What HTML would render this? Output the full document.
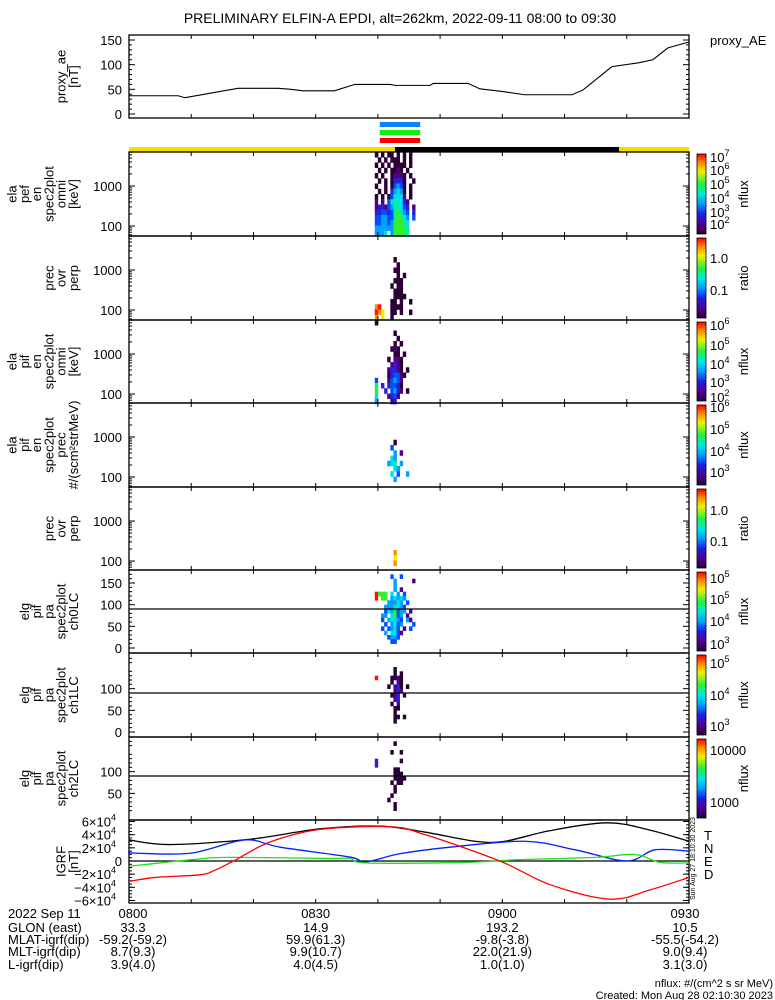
<!DOCTYPE html>
<html><head><meta charset="utf-8"><style>
body{margin:0;background:#fff}
svg{display:block}
text{font-family:"Liberation Sans",sans-serif;fill:#000}
</style></head><body>
<svg id="chart" width="775" height="1000" viewBox="0 0 775 1000" xmlns="http://www.w3.org/2000/svg">
<defs>
<linearGradient id="cmap" x1="0" y1="1" x2="0" y2="0">
<stop offset="0" stop-color="#2a0035"/><stop offset="0.12" stop-color="#500090"/><stop offset="0.25" stop-color="#2020e0"/>
<stop offset="0.38" stop-color="#00a0ff"/><stop offset="0.5" stop-color="#00e8e0"/><stop offset="0.62" stop-color="#20f040"/>
<stop offset="0.78" stop-color="#f0f000"/><stop offset="0.9" stop-color="#ff8000"/><stop offset="1" stop-color="#ff0000"/>
</linearGradient>
</defs>
<text x="400" y="23" font-size="14" text-anchor="middle">PRELIMINARY ELFIN-A EPDI, alt=262km, 2022-09-11 08:00 to 09:30</text>
<g id="g"></g>
</svg>
<script>
// ---------- data ----------
const aeTimes=[0,7.9,9,17.5,24,26,28,33,36.3,42,42.8,48.4,48.9,54.5,56.4,60.4,63.6,71.2,73,77.6,82,84.2,86.6,90];
const aeValues=[37,37,33,52,52,50,47,47,60,60,58,58,62,62,51,45,39,39,49,96,104,110,134,146];
const aeTicks=[0,50,100,150];
const nightInterval=[42.75,78.75];
const sciZone=[40.3,46.8];
const timeLabels=['0800','0830','0900','0930'];
const timeTickMins=[0,30,60,90];
const glonVals=['33.3','14.9','193.2','10.5'];
const mlatVals=['-59.2(-59.2)','59.9(61.3)','-9.8(-3.8)','-55.5(-54.2)'];
const mltVals=['8.7(9.3)','9.9(10.7)','22.0(21.9)','9.0(9.4)'];
const lVals=['3.9(4.0)','4.0(4.5)','1.0(1.0)','3.1(3.0)'];
// IGRF components (units of 1e4 nT)
const igrfT_t=[0,6.6,19.4,30.7,40.3,47.5,55.6,60.4,67.6,76.9,83.7,90];
const igrfT_v=[3.2,2.5,3.3,4.9,5.3,4.4,3.0,3.0,4.6,5.8,4.7,3.0];
const igrfN_t=[0,1,10,18.6,24.3,35.5,38,43.5,51.6,63.6,71.7,80,84.5,90];
const igrfN_v=[1.4,1.2,1.2,3.2,2.1,0.6,-0.15,1.1,2.1,3.0,1.7,0,1.7,1.5];
const igrfE_t=[0,10,16,32,35.5,38.3,54.2,62.5,74.9,81.3,85.3,90];
const igrfE_v=[-0.8,0.2,0.55,0.4,0.4,-0.3,-0.2,0.2,0.55,1.0,-0.2,-0.3];
const igrfD_t=[0,4.2,11.4,13.8,17.4,22.7,30.7,42,47.6,59.6,67.7,77.3,83.7,90];
const igrfD_v=[-3.1,-2.5,-2.1,-1.4,0.3,2.9,4.8,5.2,4.0,0,-3.6,-5.8,-4.4,-2.5];
const igrfTicks=[6,4,2,0,-2,-4,-6];
// spectrogram grids: rows top->bottom, columns in time; '0'-'9','a' = colour level, '.' = no data
const specStart=39.5, specStep=0.5;
const spec1=["0.0.00.0.0.0.",".0.0.000.0.0.","0.0.0.0000.0.",".0.0.0010.0..","0.0..01110.0.",".0.0.02220..0","0..0.03430.0.",".0.0.24540.0.","0.0.035551.0.","1.1.3565521..","12213466532.1","22332367643.2","33443367754.3","33443477765..","44444477776..","4445.477776.."];
const spec2=[".............",".............",".............",".............","......0......",".......0.....","......00.....",".......0.0...","......000....",".....0.00....","......000....","......0000...",".....00.0..0.","9a...0000....","a98..00.0..0.","9.8..0......."];
const spec3=["0............",".............","......0......",".......0.....","......0.0....",".....010.....","......00.0...","....0.110....",".....1210....","....12210.0..","....023310...","3...13431....","6.2.23320....","7..2.3421.0..","5...1231.....","4....12......"];
const spec4=[".............",".............",".............",".............",".............",".............",".............","......0......",".....3.......","......4.1....",".....54......","....456.4....","......54.....",".....5.3..4..","......4......","............."];
const spec5=[".............",".............",".............",".............",".............",".............",".............",".............",".............",".............",".............",".............","......9......","......8......","......9......","............."];
const pa0=[".............",".....3..3....","......4.....1","......4......","......4.1....","a777.5.4.3...","a.77.45454...","....44454.3..","...4445543...","...3547344.1.","..44.5734.1..","..3.45543.41.","...3.4534...3","..3.3453.1.3.","...4.5531....","....3443.....",".....33......","............."];
const pa1=[".............",".............",".............","......0......","......0.0....","a....0010....",".....0.10....","....0.120.0..","......121....",".....012.0...","......12.....",".....0.1.....","......00.....","......0......","......00.0...","......0......",".............","............."];
const pa2=[".............","......0......",".............",".....0..0....",".............","2.......0....","2............","......00.....","......000....","......0000...",".....0.00....","......0......","......0......",".....0.......","....0........","......0......","......0......","............."];
const palette=['#2a0035','#500088','#2a20d8','#0050ff','#00a0ff','#00e0e8','#00f0a0','#30f030','#e8f000','#ff9000','#ff1000'];
// ---------- helpers ----------
const NS='http://www.w3.org/2000/svg';
const G=document.getElementById('g');
const X0=129,X1=689;
function xT(m){return X0+m*(X1-X0)/90;}
function el(tag,attrs,parent){const e=document.createElementNS(NS,tag);for(const k in attrs)e.setAttribute(k,attrs[k]);(parent||G).appendChild(e);return e;}
function txt(s,x,y,size,anchor,fill,rot){const t=el('text',{x:x,y:y,'font-size':size,'text-anchor':anchor||'start'});if(fill)t.setAttribute('fill',fill);if(rot)t.setAttribute('transform','rotate(-90 '+x+' '+y+')');t.textContent=s;return t;}
function smoothPath(pts){
  let d='M'+pts[0][0]+','+pts[0][1];
  for(let i=0;i<pts.length-1;i++){
    const p0=pts[Math.max(0,i-1)],p1=pts[i],p2=pts[i+1],p3=pts[Math.min(pts.length-1,i+2)];
    const c1=[p1[0]+(p2[0]-p0[0])/6,p1[1]+(p2[1]-p0[1])/6];
    const c2=[p2[0]-(p3[0]-p1[0])/6,p2[1]-(p3[1]-p1[1])/6];
    d+=' C'+c1[0]+','+c1[1]+' '+c2[0]+','+c2[1]+' '+p2[0]+','+p2[1];
  }
  return d;
}
function axisFrame(top,bot,name){
  const r=el('rect',{x:X0,y:top,width:X1-X0,height:bot-top,fill:'none',stroke:'#000','stroke-width':1.3});
  
  
  for(let m=0;m<=90;m+=10){
    el('line',{x1:xT(m),x2:xT(m),y1:top,y2:top+4,stroke:'#000'});
    el('line',{x1:xT(m),x2:xT(m),y1:bot,y2:bot-4,stroke:'#000'});
  }
}
function ytick(y){el('line',{x1:X0,x2:X0+6,y1:y,y2:y,stroke:'#000'});el('line',{x1:X1,x2:X1-6,y1:y,y2:y,stroke:'#000'});}
function yminor(y){el('line',{x1:X0,x2:X0+3,y1:y,y2:y,stroke:'#000'});el('line',{x1:X1,x2:X1-3,y1:y,y2:y,stroke:'#000'});}
function leftLabel(lines,top,bot,name){
  const g=el('g',{});
  
  
  const cy=(top+bot)/2, n=lines.length;
  lines.forEach((s,i)=>{txt(s,78-(n-1-i)*12.3,cy,13,'middle',null,true);g.appendChild(G.lastChild);});
}
function colorbar(top,bot,labels,title,name){
  const r=el('rect',{x:697,y:top+2,width:9,height:bot-top-4,fill:'url(#cmap)',stroke:'#000','stroke-width':0.8});
  
  
  labels.forEach(l=>{
    const t=txt(l[0],710,l[1]+5,13,'start');
    if(l[2]){const s=el('tspan',{dy:-6,'font-size':9});s.textContent=l[2];t.appendChild(s);}
  });
  txt(title,748,(top+bot)/2,13,'middle',null,true);
}
// ---------- proxy AE ----------
const aeTop=35,aeBot=118;
function yAE(v){return 114-v*(74/150);}
axisFrame(aeTop,aeBot,'proxy-ae-panel');
aeTicks.forEach(v=>{ytick(yAE(v));txt(String(v),122,yAE(v)+5,13,'end');});
for(let v=10;v<150;v+=10){if(v%50)yminor(yAE(v));}
{const p=el('polyline',{points:aeTimes.map((t,i)=>xT(t)+','+yAE(aeValues[i])).join(' '),fill:'none',stroke:'#000','stroke-width':1.1});

}
leftLabel(['proxy_ae','[nT]'],aeTop,aeBot,'proxy-ae-axis-title');
{const t=txt('proxy_AE',710,45,13,'start');}
// ---------- science zone bars & orbit bar ----------
[['#0a80ff',122],['#10f010',130],['#ff0000',138]].forEach((b,i)=>{
  const r=el('rect',{x:xT(sciZone[0]),y:b[1],width:xT(sciZone[1])-xT(sciZone[0]),height:5,fill:b[0]});
  
  
});
{const r=el('rect',{x:X0,y:147,width:X1-X0,height:5,fill:'#f8dc00'});


const k=el('rect',{x:xT(nightInterval[0]),y:147,width:xT(nightInterval[1])-xT(nightInterval[0]),height:5,fill:'#000'});

}
// ---------- spectrogram panels ----------
const tops=[152,236,320,403,487,570,653,737,820];
function drawGrid(rows,yOf,rowSpan,top,name){
  const g=el('g',{});
  
  
  rows.forEach((row,ri)=>{
    for(let ci=0;ci<row.length;ci++){
      const c=row[ci]; if(c==='.')continue;
      const lvl=c==='a'?10:parseInt(c);
      const y0=yOf(ri),y1=yOf(ri+1);
      el('rect',{x:xT(specStart+ci*specStep),y:Math.min(y0,y1),width:xT(specStep)-X0+0.3,height:Math.abs(y1-y0)+0.3,fill:palette[lvl]},g);
    }
  });
}
const eMax=3.85,eMin=1.75;
function yE(top,logE){return top+34+(3-logE)*40;}
const specs=[spec1,spec2,spec3,spec4,spec5];
const specLabels=[['ela','pef','en','spec2plot','omni','[keV]'],['prec','ovr','perp'],['ela','pif','en','spec2plot','omni','[keV]'],['ela','pif','en','spec2plot','prec','#/(scm²strMeV)'],['prec','ovr','perp']];
specs.forEach((rows,p)=>{
  const top=tops[p],bot=tops[p+1];
  const step=(eMax-eMin)/rows.length;
  drawGrid(rows,ri=>yE(top,eMax-ri*step),step,top,'spectrogram-'+(p+1)+'-cells');
  axisFrame(top,bot,'spectrogram-'+(p+1));
  [3,2].forEach(d=>{ytick(yE(top,d));txt(String(Math.pow(10,d)),122,yE(top,d)+5,13,'end');});
  for(let d=1;d<=3;d++)for(let k=2;k<10;k++){const y=yE(top,d+Math.log10(k));if(y>top&&y<bot)yminor(y);}
  leftLabel(specLabels[p],top,bot,'spectrogram-'+(p+1)+'-axis-title');
});
// pitch-angle panels
const paGrids=[pa0,pa1,pa2];
const paTickSets=[[0,50,100,150],[0,50,100],[50,100]];
paGrids.forEach((rows,i)=>{
  const p=i+5,top=tops[p],bot=tops[p+1];
  const yPA=v=>bot-5-v*78/180;
  drawGrid(rows,ri=>yPA(180-ri*10),10,top,'pitch-angle-'+i+'-cells');
  axisFrame(top,bot,'pitch-angle-panel-'+i);
  el('line',{x1:X0,x2:X1,y1:yPA(90),y2:yPA(90),stroke:'#000','stroke-width':1.2});
  paTickSets[i].forEach(v=>{ytick(yPA(v));txt(String(v),122,yPA(v)+5,13,'end');});
  for(let v=10;v<180;v+=10)if(v%50)yminor(yPA(v));
  leftLabel(['elg','pif','pa','spec2plot','ch'+i+'LC'],top,bot,'pitch-angle-'+i+'-axis-title');
});
// colourbars
colorbar(152,236,[['10',157,'7'],['10',170,'6'],['10',184,'5'],['10',198,'4'],['10',212,'3'],['10',224,'2']],'nflux','colorbar-1');
colorbar(236,320,[['1.0',258],['0.1',290]],'ratio','colorbar-2');
colorbar(320,403,[['10',325,'6'],['10',345,'5'],['10',364,'4'],['10',382,'3'],['10',397,'2']],'nflux','colorbar-3');
colorbar(403,487,[['10',407,'6'],['10',429,'5'],['10',451,'4'],['10',472,'3']],'nflux','colorbar-4');
colorbar(487,570,[['1.0',510],['0.1',541]],'ratio','colorbar-5');
colorbar(570,653,[['10',578,'5'],['10',599,'5'],['10',621,'4'],['10',644,'3']],'nflux','colorbar-6');
colorbar(653,737,[['10',663,'5'],['10',695,'4'],['10',726,'3']],'nflux','colorbar-7');
colorbar(737,820,[['10000',750],['1000',802]],'nflux','colorbar-8');
// ---------- IGRF ----------
const gTop=820,gBot=903;
function yG(v){return 861-v*6.58;}
axisFrame(gTop,gBot,'igrf-panel');
el('line',{x1:X0,x2:X1,y1:yG(0),y2:yG(0),stroke:'#000','stroke-width':1.2});
igrfTicks.forEach(v=>{ytick(yG(v));
  if(v===0){txt('0',122,yG(0)+5,13,'end');}
  else{const t=txt((v<0?'−':'')+Math.abs(v)+'×10',116,yG(v)+5,13,'end');const s=el('tspan',{dy:-6,'font-size':9});s.textContent='4';t.appendChild(s);}
});
for(let v=-6;v<=6;v+=0.5)yminor(yG(v));
[[igrfT_t,igrfT_v,'#000','igrf-total-line'],[igrfN_t,igrfN_v,'#0020ff','igrf-north-line'],[igrfE_t,igrfE_v,'#20e020','igrf-east-line'],[igrfD_t,igrfD_v,'#ff0000','igrf-down-line']].forEach(s=>{
  const pts=s[0].map((t,i)=>[xT(t),yG(s[1][i])]);
  const p=el('path',{d:smoothPath(pts),fill:'none',stroke:s[2],'stroke-width':1.3});
  
  
});
leftLabel(['IGRF','[nT]'],gTop,gBot,'igrf-axis-title');
[['T','#000',840],['N','#0020ff',853],['E','#20e020',866],['D','#ff0000',879]].forEach(l=>{
  const t=txt(l[0],704,l[2],13,'start',l[1]);
  
  
});
txt('Sun Aug 27 18:10:30 2023',695,900,7,'start',null,true);
// ---------- footer ----------
const rowsY=[918,932,944,956,969];
txt('2022 Sep 11',8,rowsY[0],13,'start');
txt('GLON (east)',8,rowsY[1],13,'start');
txt('MLAT-igrf(dip)',8,rowsY[2],13,'start');
txt('MLT-igrf(dip)',8,rowsY[3],13,'start');
txt('L-igrf(dip)',8,rowsY[4],13,'start');
timeTickMins.forEach((m,i)=>{
  const x=xT(m)+(i===0?4:(i===3?-4:0));
  txt(timeLabels[i],x,rowsY[0],13,'middle');
  txt(glonVals[i],x,rowsY[1],13,'middle');
  txt(mlatVals[i],x,rowsY[2],13,'middle');
  txt(mltVals[i],x,rowsY[3],13,'middle');
  txt(lVals[i],x,rowsY[4],13,'middle');
});
txt('nflux: #/(cm^2 s sr MeV)',773,987,11,'end');
txt('Created: Mon Aug 28 02:10:30 2023',773,999,11,'end');
</script>
</body></html>
